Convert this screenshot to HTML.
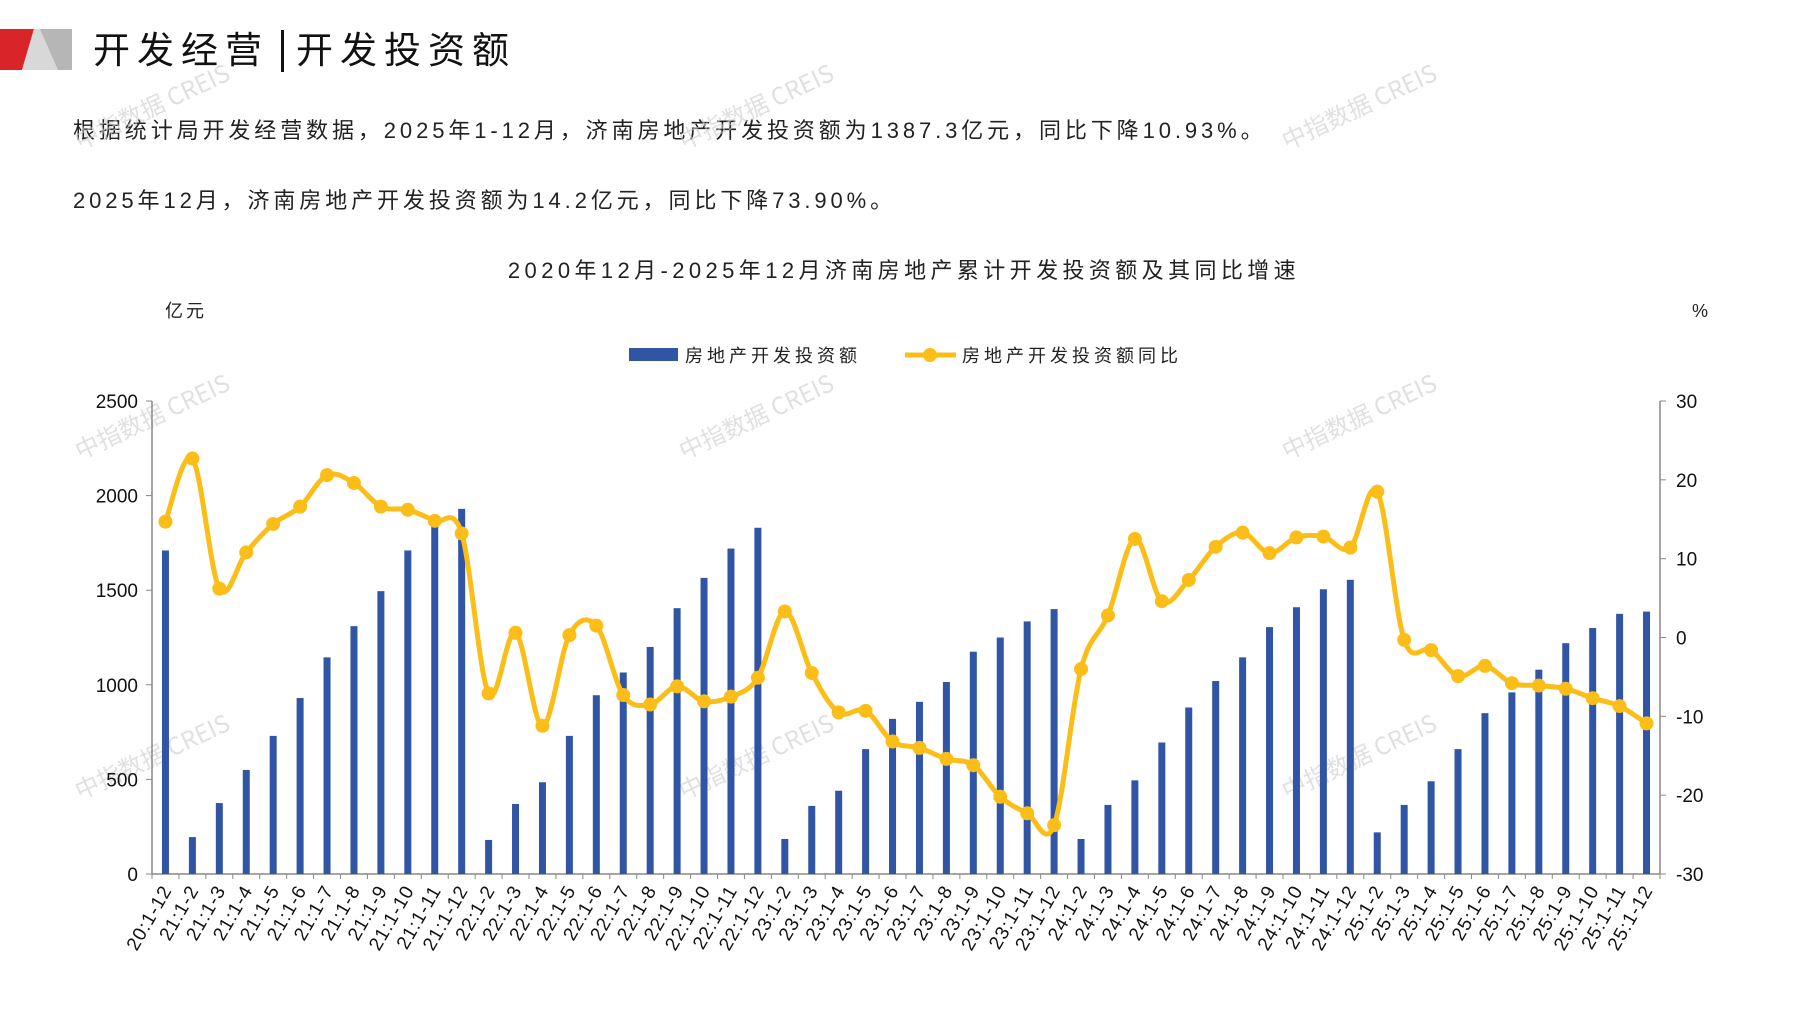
<!DOCTYPE html>
<html><head><meta charset="utf-8"><style>
body{margin:0;width:1797px;height:1010px;background:#fff;overflow:hidden;font-family:"Liberation Sans","Noto Sans CJK SC",sans-serif;}
</style></head><body>
<svg id="s" width="1797" height="1010" xmlns="http://www.w3.org/2000/svg" style="position:absolute;left:0;top:0">
<polygon points="0,29 34,29 22,70 0,70" fill="#d9252a"/>
<polygon points="34,29 72,29 72,70 22,70" fill="#d8d8d8"/>
<polygon points="40,29 72,29 72,70 58,70" fill="#a8a8a8" opacity="0.7"/>
<text x="93" y="63" font-size="37" letter-spacing="7" font-family="Noto Sans CJK SC,sans-serif" fill="#111">开发经营</text>
<rect x="281" y="30" width="3" height="42" fill="#111"/>
<text x="296" y="63" font-size="37" letter-spacing="7" font-family="Noto Sans CJK SC,sans-serif" fill="#111">开发投资额</text>
<text x="73" y="138" font-size="22" letter-spacing="3.9" fill="#222" font-family="Liberation Sans,Noto Sans CJK SC,sans-serif">根据统计局开发经营数据，2025年1-12月，济南房地产开发投资额为1387.3亿元，同比下降10.93%。</text>
<text x="73" y="208" font-size="22" letter-spacing="3.9" fill="#222" font-family="Liberation Sans,Noto Sans CJK SC,sans-serif">2025年12月，济南房地产开发投资额为14.2亿元，同比下降73.90%。</text>
<text x="904" y="278" font-size="22" letter-spacing="4.4" fill="#222" text-anchor="middle" font-family="Liberation Sans,Noto Sans CJK SC,sans-serif">2020年12月-2025年12月济南房地产累计开发投资额及其同比增速</text>
<text x="165" y="317" font-size="18" letter-spacing="3" fill="#222" font-family="Noto Sans CJK SC,sans-serif">亿元</text>
<text x="1692" y="317" font-size="18" fill="#222">%</text>
<rect x="629" y="348" width="49" height="13" fill="#2f55a4"/>
<text x="685" y="362" font-size="18" letter-spacing="4" fill="#222" font-family="Noto Sans CJK SC,sans-serif">房地产开发投资额</text>
<line x1="905" y1="355" x2="956" y2="355" stroke="#fbbd18" stroke-width="5"/>
<circle cx="930" cy="355" r="7" fill="#fbbd18"/>
<text x="962" y="362" font-size="18" letter-spacing="4" fill="#222" font-family="Noto Sans CJK SC,sans-serif">房地产开发投资额同比</text>
<g id="g"></g>
</svg>
<script>
var L=152,R=1660,T=401,B=874,n=56,w=(R-L)/n;
var bars=[1710,195,375,550,730,930,1145,1310,1495,1710,1855,1930,180,370,485,730,945,1065,1200,1405,1565,1720,1830,185,360,440,660,820,910,1015,1175,1250,1335,1400,185,365,495,695,880,1020,1145,1305,1410,1505,1555,220,365,490,660,850,960,1080,1220,1300,1375,1387];
var ln=[14.7,22.7,6.2,10.8,14.4,16.6,20.6,19.6,16.6,16.2,14.8,13.2,-7.1,0.6,-11.2,0.3,1.5,-7.3,-8.5,-6.2,-8.1,-7.5,-5.1,3.3,-4.5,-9.5,-9.3,-13.2,-14.0,-15.4,-16.2,-20.2,-22.3,-23.8,-4.0,2.8,12.5,4.6,7.3,11.5,13.3,10.7,12.7,12.8,11.4,18.5,-0.3,-1.6,-4.9,-3.6,-5.8,-6.1,-6.5,-7.7,-8.7,-10.9];
var labs=["20:1-12"];for(var y=21;y<=25;y++)for(var m=2;m<=12;m++)labs.push(y+":1-"+m);
var h='';
[[80,150],[684,150],[1287,150],[80,460],[684,460],[1287,460],[80,800],[684,800],[1287,800]].forEach(function(p){h+='<text x="'+p[0]+'" y="'+p[1]+'" transform="rotate(-25 '+p[0]+' '+p[1]+')" font-size="24" fill="#ccc" opacity="0.6" font-family="Noto Sans CJK SC,sans-serif">中指数据 CREIS</text>';});
h+='<line x1="'+L+'" y1="'+T+'" x2="'+L+'" y2="'+B+'" stroke="#888" stroke-width="1.5"/>';
h+='<line x1="'+R+'" y1="'+T+'" x2="'+R+'" y2="'+B+'" stroke="#888" stroke-width="1.5"/>';
h+='<line x1="'+L+'" y1="'+B+'" x2="'+R+'" y2="'+B+'" stroke="#888" stroke-width="1.5"/>';
for(var i=0;i<=5;i++){var yy=B-(B-T)*i/5;h+='<line x1="'+(L-6)+'" y1="'+yy+'" x2="'+L+'" y2="'+yy+'" stroke="#888"/>';h+='<text x="'+(L-14)+'" y="'+(yy+7)+'" font-size="19" text-anchor="end" fill="#111">'+(i*500)+'</text>';}
for(var i=0;i<=6;i++){var yy=B-(B-T)*i/6;h+='<line x1="'+R+'" y1="'+yy+'" x2="'+(R+6)+'" y2="'+yy+'" stroke="#888"/>';h+='<text x="'+(R+16)+'" y="'+(yy+7)+'" font-size="19" fill="#111">'+(-30+i*10)+'</text>';}
for(var i=0;i<=n;i++){var xx=L+i*w;h+='<line x1="'+xx+'" y1="'+B+'" x2="'+xx+'" y2="'+(B+5)+'" stroke="#888"/>';}
var pts=[];
for(var i=0;i<n;i++){var cx=L+(i+0.5)*w;var bh=bars[i]/2500*(B-T);h+='<rect x="'+(cx-3.5)+'" y="'+(B-bh)+'" width="7" height="'+bh+'" fill="#2f55a4"/>';
h+='<text x="'+(cx+7)+'" y="'+(B+16)+'" font-size="19" letter-spacing="1" text-anchor="end" fill="#111" transform="rotate(-60 '+(cx+7)+' '+(B+16)+')">'+labs[i]+'</text>';
pts.push([cx,B-(ln[i]+30)/60*(B-T)]);}
var d='M'+pts[0][0]+','+pts[0][1];
for(var i=0;i<n-1;i++){var p0=pts[Math.max(0,i-1)],p1=pts[i],p2=pts[i+1],p3=pts[Math.min(n-1,i+2)],k=1/6;
d+=' C'+(p1[0]+(p2[0]-p0[0])*k)+','+(p1[1]+(p2[1]-p0[1])*k)+' '+(p2[0]-(p3[0]-p1[0])*k)+','+(p2[1]-(p3[1]-p1[1])*k)+' '+p2[0]+','+p2[1];}
h+='<path d="'+d+'" fill="none" stroke="#fbbd18" stroke-width="5"/>';
pts.forEach(function(p){h+='<circle cx="'+p[0]+'" cy="'+p[1]+'" r="7" fill="#fbbd18"/>';});
document.getElementById('g').innerHTML=h;
</script>
</body></html>
